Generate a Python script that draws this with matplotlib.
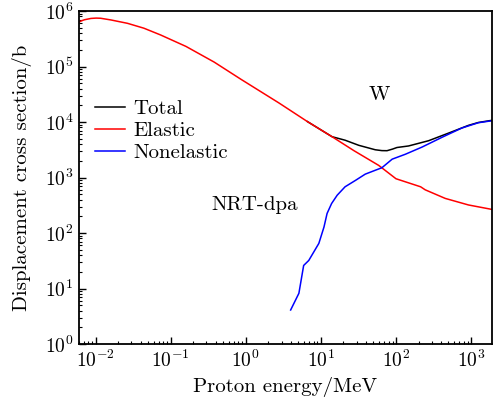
import matplotlib
matplotlib.use("Agg")
import matplotlib.pyplot as plt
from matplotlib.ticker import LogLocator, NullFormatter

plt.rcParams['font.family'] = ['cmr10', 'DejaVu Serif']
plt.rcParams['mathtext.fontset'] = 'cm'
plt.rcParams['axes.formatter.use_mathtext'] = True
plt.rcParams['axes.unicode_minus'] = False

# energies (MeV) and displacement cross sections (b)
e_elastic = [0.006, 0.0065, 0.0071, 0.0087, 0.0102, 0.0117, 0.016, 0.0266, 0.044,
             0.0735, 0.16, 0.38, 0.86, 2.77, 6.6, 14.1, 27.5, 59, 80, 100, 213,
             245, 453, 923, 1790, 2000]
s_elastic = [6.3e5, 6.65e5, 6.95e5, 7.35e5, 7.45e5, 7.4e5, 6.9e5, 6.0e5, 4.9e5,
             3.7e5, 2.3e5, 1.2e5, 5.9e4, 2.2e4, 1.02e4, 5.43e3, 3.05e3, 1.65e3,
             1.2e3, 950, 680, 600, 420, 320, 270, 262]

e_nonel = [3.96, 5.1, 5.9, 6.9, 9.4, 11, 12.1, 13.9, 16.5, 21, 29, 39, 53, 65,
           89, 133, 222, 410, 755, 1250, 1860, 2000]
s_nonel = [4.1, 8.2, 26, 32, 65, 128, 225, 340, 480, 680, 890, 1150, 1350, 1500,
           2140, 2620, 3530, 5300, 7800, 9700, 1.05e4, 1.06e4]

e_total = [6.6, 14.1, 21, 32, 53, 65, 76, 90, 103, 147, 272, 500, 923, 1250,
           1790, 2000]
s_total = [1.02e4, 5.43e3, 4.7e3, 3.8e3, 3.16e3, 3.05e3, 3.04e3, 3.25e3, 3.47e3,
           3.7e3, 4.6e3, 6.3e3, 8.7e3, 9.8e3, 1.06e4, 1.08e4]

fig = plt.figure(figsize=(4.93, 4.0), dpi=100)
ax = fig.add_axes([0.160, 0.14, 0.838, 0.8325])

ax.plot(e_total, s_total, color='black', lw=1.1, label='Total')
ax.plot(e_elastic, s_elastic, color='red', lw=1.1, label='Elastic')
ax.plot(e_nonel, s_nonel, color='blue', lw=1.1, label='Nonelastic')

ax.set_xscale('log')
ax.set_yscale('log')
ax.set_xlim(6e-3, 1.9e3)
ax.set_ylim(1, 1e6)

ax.xaxis.set_major_locator(LogLocator(base=10, numticks=20))
ax.xaxis.set_minor_locator(LogLocator(base=10, subs=range(2, 10), numticks=20))
ax.yaxis.set_major_locator(LogLocator(base=10, numticks=20))
ax.yaxis.set_minor_locator(LogLocator(base=10, subs=range(2, 10), numticks=20))
ax.xaxis.set_minor_formatter(NullFormatter())
ax.yaxis.set_minor_formatter(NullFormatter())

ax.tick_params(which='both', direction='in', labelsize=14, top=False, right=False)
ax.tick_params(which='major', length=5, width=1.0, pad=4)
ax.tick_params(which='minor', length=2.5, width=0.8)
for sp in ax.spines.values():
    sp.set_linewidth(1.3)

ax.set_xlabel('Proton energy/MeV', fontsize=15, labelpad=4)
ax.set_ylabel('Displacement cross section/b', fontsize=15, labelpad=9)

ax.text(0.727, 0.748, 'W', transform=ax.transAxes, fontsize=15,
        ha='center', va='center')
ax.text(0.425, 0.417, 'NRT-dpa', transform=ax.transAxes, fontsize=15,
        ha='center', va='center')

ax.legend(loc='center left', bbox_to_anchor=(0.039, 0.64), frameon=False,
          fontsize=15, handlelength=1.45, handletextpad=0.4, labelspacing=0.15,
          borderaxespad=0, borderpad=0)

fig.savefig('out.png', dpi=100)
